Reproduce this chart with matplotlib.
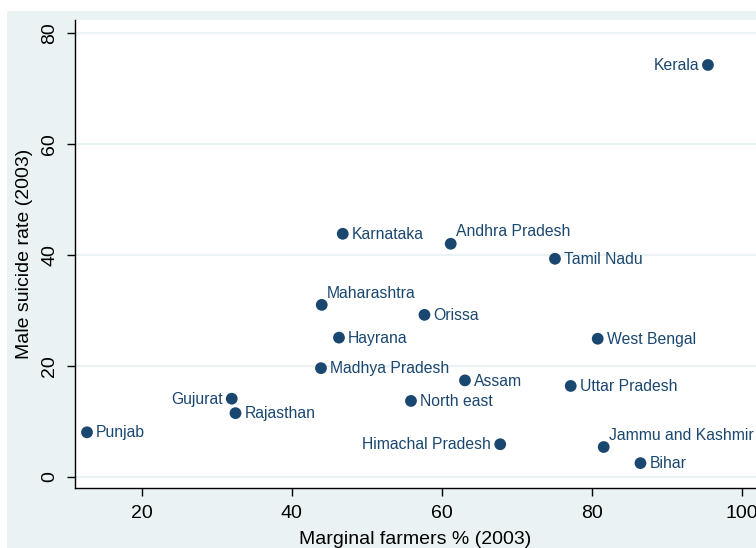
import matplotlib
matplotlib.use("Agg")
import matplotlib.pyplot as plt
from matplotlib.patches import Rectangle

plt.rcParams['font.family'] = ['Liberation Sans', 'DejaVu Sans']

# data
states = ["Kerala", "Karnataka", "Andhra Pradesh", "Tamil Nadu", "Maharashtra",
          "Orissa", "Hayrana", "West Bengal", "Madhya Pradesh", "Assam",
          "Uttar Pradesh", "Gujurat", "Rajasthan", "North east", "Punjab",
          "Himachal Pradesh", "Jammu and Kashmir", "Bihar"]
marginal = [95.5, 46.8, 61.2, 75.1, 44.0, 57.7, 46.3, 80.8, 43.9, 63.1,
            77.2, 32.0, 32.5, 55.9, 12.7, 67.8, 81.6, 86.5]
suicide = [74.2, 43.8, 42.0, 39.3, 31.0, 29.2, 25.1, 24.9, 19.6, 17.4,
           16.4, 14.1, 11.5, 13.7, 8.05, 5.9, 5.4, 2.5]
yticks = [0, 20, 40, 60, 80]
xticks = [20, 40, 60, 80, 100]

# where the labels go (stata clock positions), default is 3 o'clock
lab_left = ["Kerala", "Gujurat", "Himachal Pradesh"]
lab_upright = ["Andhra Pradesh", "Maharashtra", "Jammu and Kashmir"]

navy = "#1A476F"
bg = "#EAF2F3"
W, H = 756, 548

fig = plt.figure(figsize=(W / 100, H / 100), dpi=100)
outer = Rectangle((7 / W, 0), 1, (H - 11) / H, transform=fig.transFigure,
                  facecolor=bg, edgecolor="none")
outer.set_zorder(-10)
fig.add_artist(outer)

ax = fig.add_axes([75 / W, (H - 488) / H, (756 - 75) / W, (488 - 20) / H])
ax.set_zorder(1)
ax.set_facecolor("white")
ax.set_xlim(11.1, (756 + 8.3) / 7.5)
ax.set_ylim(-1.98, 82.3)

for y in yticks:
    ax.axhline(y, color=bg, lw=1.6, zorder=1)

ax.scatter(marginal, suicide, s=72, color=navy, edgecolors="none", zorder=3)

for name, x, y in zip(states, marginal, suicide):
    if name in lab_left:
        ax.annotate(name, (x, y), xytext=(-6.5, -0.5), textcoords="offset points",
                    ha="right", va="center", color=navy, fontsize=11.3)
    elif name in lab_upright:
        ax.annotate(name, (x, y), xytext=(3.5, 8.5), textcoords="offset points",
                    ha="left", va="center", color=navy, fontsize=11.3)
    else:
        ax.annotate(name, (x, y), xytext=(6.5, -0.5), textcoords="offset points",
                    ha="left", va="center", color=navy, fontsize=11.3)

ax.spines["top"].set_visible(False)
ax.spines["right"].set_visible(False)
ax.spines["left"].set_linewidth(1)
ax.spines["bottom"].set_linewidth(1)

ax.set_xticks(xticks)
ax.set_yticks(yticks)
ax.tick_params(axis="both", length=6, width=1, labelsize=14, pad=6)
plt.setp(ax.get_yticklabels(), rotation=90, va="center")

ax.set_xlabel("Marginal farmers % (2003)", fontsize=14, labelpad=7)
ax.set_ylabel("Male suicide rate (2003)", fontsize=14, labelpad=6)

fig.savefig("out.png", dpi=100)
